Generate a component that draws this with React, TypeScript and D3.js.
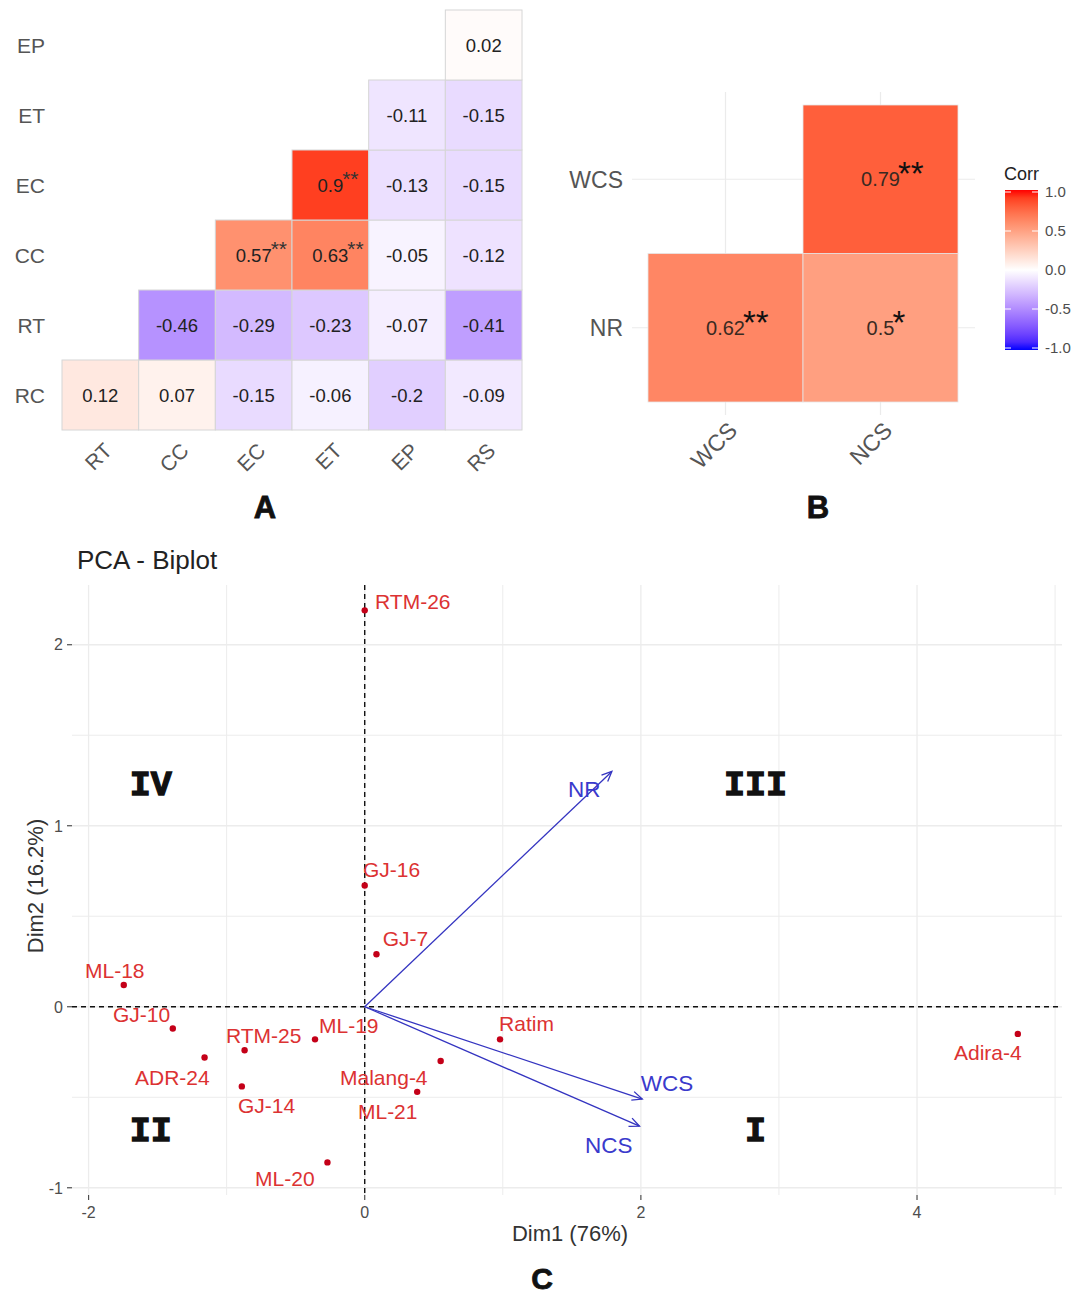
import * as d3 from "d3";
import { useRef, useEffect } from "react";

// ---- panel A: correlation matrix (rows listed bottom to top)
const corrRows = ["RC", "RT", "CC", "EC", "ET", "EP"];
const corrCols = ["RT", "CC", "EC", "ET", "EP", "RS"];
const corrValues: (number | null)[][] = [
  [0.12, 0.07, -0.15, -0.06, -0.2, -0.09],
  [null, -0.46, -0.29, -0.23, -0.07, -0.41],
  [null, null, 0.57, 0.63, -0.05, -0.12],
  [null, null, null, 0.9, -0.13, -0.15],
  [null, null, null, null, -0.11, -0.15],
  [null, null, null, null, null, 0.02],
];
const corrStars: (string | null)[][] = [
  [null, null, null, null, null, null],
  [null, null, null, null, null, null],
  [null, null, "**", "**", null, null],
  [null, null, null, "**", null, null],
  [null, null, null, null, null, null],
  [null, null, null, null, null, null],
];

// ---- panel B
const bRows = ["NR", "WCS"];
const bCols = ["WCS", "NCS"];
const bValues: (number | null)[][] = [
  [0.62, 0.5],
  [null, 0.79],
];
const bStars: (string | null)[][] = [
  ["**", "*"],
  [null, "**"],
];
const legendTicks = [1.0, 0.5, 0.0, -0.5, -1.0];

// ---- panel C: PCA biplot
const genotypes = ["RTM-26", "GJ-16", "GJ-7", "ML-18", "GJ-10", "ADR-24", "RTM-25", "GJ-14", "ML-19", "ML-20", "Ratim", "Malang-4", "ML-21", "Adira-4"];
const dim1 = [0, 0, 0.085, -1.745, -1.39, -1.16, -0.87, -0.89, -0.36, -0.27, 0.98, 0.55, 0.38, 4.73];
const dim2 = [2.19, 0.67, 0.29, 0.12, -0.12, -0.28, -0.24, -0.44, -0.18, -0.86, -0.18, -0.3, -0.47, -0.15];
// label anchor (repelled) in data units
const labelX = [0.075, -0.013, 0.13, -2.026, -1.823, -1.664, -1.005, -0.918, -0.331, -0.794, 0.973, -0.179, -0.049, 4.268];
const labelY = [2.24, 0.756, 0.375, 0.198, -0.04, -0.393, -0.156, -0.543, -0.106, -0.946, -0.09, -0.393, -0.581, -0.255];

const variables = ["NR", "WCS", "NCS"];
const varX = [1.79, 2.01, 1.99];
const varY = [1.3, -0.51, -0.66];
const varLabelX = [1.473, 2.0, 1.595];
const varLabelY = [1.204, -0.42, -0.764];

const quadrants = ["IV", "III", "II", "I"];
const quadX = [-1.55, 2.83, -1.55, 2.83];
const quadY = [1.24, 1.24, -0.67, -0.67];

const xTicks = [-2, 0, 2, 4];
const yTicks = [-1, 0, 1, 2];

const FONT = "'Liberation Sans', Arial, sans-serif";

export default function App() {
  const svgRef = useRef<SVGSVGElement | null>(null);

  useEffect(() => {
    const svg = d3.select(svgRef.current);
    svg.selectAll("*").remove();
    svg.attr("font-family", FONT);

    const color = d3
      .scaleLinear<string>()
      .domain([-1, 0, 1])
      .range(["blue", "white", "red"])
      .interpolate(d3.interpolateLab);

    // ================= A =================
    const ax = d3.scaleBand().domain(corrCols).range([62, 522]);
    const ay = d3.scaleBand().domain(corrRows).range([430, 10]);
    const gA = svg.append("g");

    const cellsA: { r: string; c: string; v: number; s: string | null }[] = [];
    corrRows.forEach((r, i) =>
      corrCols.forEach((c, j) => {
        const v = corrValues[i][j];
        if (v !== null) cellsA.push({ r, c, v, s: corrStars[i][j] });
      })
    );

    gA.selectAll("rect")
      .data(cellsA)
      .join("rect")
      .attr("x", d => ax(d.c)!)
      .attr("y", d => ay(d.r)!)
      .attr("width", ax.bandwidth())
      .attr("height", ay.bandwidth())
      .attr("fill", d => color(d.v))
      .attr("stroke", "#d6d6d6")
      .attr("stroke-width", 1);

    const valA = gA.selectAll("g.val").data(cellsA).join("g").attr("class", "val")
      .attr("transform", d => `translate(${ax(d.c)! + ax.bandwidth() / 2},${ay(d.r)! + ay.bandwidth() / 2})`);
    valA.append("text")
      .attr("class", "num")
      .attr("text-anchor", "middle")
      .attr("dy", "0.36em")
      .attr("font-size", 18.5)
      .attr("fill", "#222")
      .text(d => String(d.v));
    valA.filter(d => !!d.s).each(function () {
      const g = d3.select(this);
      const w = (g.select("text.num").node() as SVGTextElement).getComputedTextLength();
      g.append("text")
        .attr("x", w / 2 - 1)
        .attr("y", 1)
        .attr("font-size", 21)
        .attr("fill", "#333")
        .text((g.datum() as any).s);
    });

    gA.selectAll("text.row")
      .data(corrRows)
      .join("text")
      .attr("class", "row")
      .attr("x", 45)
      .attr("y", d => ay(d)! + ay.bandwidth() / 2)
      .attr("dy", "0.36em")
      .attr("text-anchor", "end")
      .attr("font-size", 21)
      .attr("fill", "#555")
      .text(d => d);

    gA.selectAll("text.col")
      .data(corrCols)
      .join("text")
      .attr("class", "col")
      .attr("text-anchor", "end")
      .attr("font-size", 21)
      .attr("fill", "#555")
      .attr("transform", d => `translate(${ax(d)! + ax.bandwidth() / 2 + 13},${452}) rotate(-45)`)
      .text(d => d);

    svg.append("text").attr("x", 265).attr("y", 518).attr("text-anchor", "middle")
      .attr("font-size", 31).attr("font-weight", 700).attr("fill", "#111")
      .attr("stroke", "#111").attr("stroke-width", 0.8).text("A");

    // ================= B =================
    const bx = d3.scaleBand().domain(bCols).range([648, 958]);
    const by = d3.scaleBand().domain(bRows).range([402, 105]);
    const gB = svg.append("g");

    gB.selectAll("line.gx").data(bCols).join("line").attr("class", "gx")
      .attr("x1", d => bx(d)! + bx.bandwidth() / 2).attr("x2", d => bx(d)! + bx.bandwidth() / 2)
      .attr("y1", 92).attr("y2", 415)
      .attr("stroke", "#ebebeb").attr("stroke-width", 1.2);
    gB.selectAll("line.gy").data(bRows).join("line").attr("class", "gy")
      .attr("y1", d => by(d)! + by.bandwidth() / 2).attr("y2", d => by(d)! + by.bandwidth() / 2)
      .attr("x1", 632).attr("x2", 975)
      .attr("stroke", "#ebebeb").attr("stroke-width", 1.2);

    const cellsB: { r: string; c: string; v: number; s: string | null }[] = [];
    bRows.forEach((r, i) =>
      bCols.forEach((c, j) => {
        const v = bValues[i][j];
        if (v !== null) cellsB.push({ r, c, v, s: bStars[i][j] });
      })
    );

    gB.selectAll("rect")
      .data(cellsB)
      .join("rect")
      .attr("x", d => bx(d.c)!)
      .attr("y", d => by(d.r)!)
      .attr("width", bx.bandwidth())
      .attr("height", by.bandwidth())
      .attr("fill", d => color(d.v))
      .attr("stroke", "#e6e6e6")
      .attr("stroke-width", 0.8);

    const valB = gB.selectAll("g.val").data(cellsB).join("g").attr("class", "val")
      .attr("transform", d => `translate(${bx(d.c)! + bx.bandwidth() / 2},${by(d.r)! + by.bandwidth() / 2})`);
    valB.append("text")
      .attr("class", "num")
      .attr("text-anchor", "middle")
      .attr("dy", "0.36em")
      .attr("font-size", 20)
      .attr("fill", "#3a2a22")
      .text(d => String(d.v));
    valB.each(function () {
      const g = d3.select(this);
      const w = (g.select("text.num").node() as SVGTextElement).getComputedTextLength();
      g.append("text")
        .attr("x", w / 2 - 2)
        .attr("y", 6)
        .attr("font-size", 33)
        .attr("fill", "#111")
        .text((g.datum() as any).s ?? "");
    });

    gB.selectAll("text.row").data(bRows).join("text").attr("class", "row")
      .attr("x", 623)
      .attr("y", d => by(d)! + by.bandwidth() / 2)
      .attr("dy", "0.36em")
      .attr("text-anchor", "end")
      .attr("font-size", 23)
      .attr("fill", "#555")
      .text(d => d);

    gB.selectAll("text.col").data(bCols).join("text").attr("class", "col")
      .attr("text-anchor", "end")
      .attr("font-size", 23)
      .attr("fill", "#555")
      .attr("transform", d => `translate(${bx(d)! + bx.bandwidth() / 2 + 13},${432}) rotate(-45)`)
      .text(d => d);

    svg.append("text").attr("x", 818).attr("y", 518).attr("text-anchor", "middle")
      .attr("font-size", 31).attr("font-weight", 700).attr("fill", "#111")
      .attr("stroke", "#111").attr("stroke-width", 0.8).text("B");

    // legend
    const ly = d3.scaleLinear().domain([1, -1]).range([192, 348]);
    const defs = svg.append("defs");
    const grad = defs.append("linearGradient").attr("id", "corrGrad")
      .attr("x1", 0).attr("x2", 0).attr("y1", 0).attr("y2", 1);
    d3.range(0, 1.0001, 0.05).forEach(t => {
      grad.append("stop").attr("offset", t).attr("stop-color", color(1 - 2 * t));
    });
    svg.append("text").attr("x", 1004).attr("y", 180).attr("font-size", 18).attr("fill", "#222").text("Corr");
    svg.append("rect").attr("x", 1005).attr("y", ly(1) - 2).attr("width", 33).attr("height", ly(-1) - ly(1) + 4)
      .attr("fill", "url(#corrGrad)");
    svg.selectAll("line.lt").data(legendTicks).join("line").attr("class", "lt")
      .attr("x1", 1005).attr("x2", 1011).attr("y1", d => ly(d)).attr("y2", d => ly(d))
      .attr("stroke", "white").attr("stroke-width", 1);
    svg.selectAll("line.lt2").data(legendTicks).join("line").attr("class", "lt2")
      .attr("x1", 1032).attr("x2", 1038).attr("y1", d => ly(d)).attr("y2", d => ly(d))
      .attr("stroke", "white").attr("stroke-width", 1);
    svg.selectAll("text.ll").data(legendTicks).join("text").attr("class", "ll")
      .attr("x", 1045).attr("y", d => ly(d)).attr("dy", "0.36em")
      .attr("font-size", 15).attr("fill", "#4d4d4d")
      .text(d => d.toFixed(1));

    // ================= C =================
    const x = d3.scaleLinear().domain([-2.12, 5.05]).range([72, 1062]);
    const y = d3.scaleLinear().domain([-1.04, 2.33]).range([1195, 585]);
    const gC = svg.append("g");

    svg.append("text").attr("x", 77).attr("y", 569).attr("font-size", 26).attr("fill", "#222").text("PCA - Biplot");

    const xGrid = d3.range(-2, 5.01, 1);
    const yGrid = d3.range(-1, 2.01, 0.5);
    gC.selectAll("line.vg").data(xGrid).join("line").attr("class", "vg")
      .attr("x1", d => x(d)).attr("x2", d => x(d)).attr("y1", 585).attr("y2", 1195)
      .attr("stroke", "#ececec").attr("stroke-width", d => (d % 2 === 0 ? 1.3 : 1));
    gC.selectAll("line.hg").data(yGrid).join("line").attr("class", "hg")
      .attr("y1", d => y(d)).attr("y2", d => y(d)).attr("x1", 72).attr("x2", 1062)
      .attr("stroke", "#ececec").attr("stroke-width", d => (Number.isInteger(d) ? 1.3 : 1));

    // zero lines
    gC.append("line").attr("x1", 72).attr("x2", 1062).attr("y1", y(0)).attr("y2", y(0))
      .attr("stroke", "#111").attr("stroke-width", 1.4).attr("stroke-dasharray", "5,4");
    gC.append("line").attr("x1", x(0)).attr("x2", x(0)).attr("y1", 585).attr("y2", 1195)
      .attr("stroke", "#111").attr("stroke-width", 1.4).attr("stroke-dasharray", "5,4");

    // axes ticks
    gC.selectAll("line.yt").data(yTicks).join("line").attr("class", "yt")
      .attr("x1", 67).attr("x2", 72).attr("y1", d => y(d)).attr("y2", d => y(d))
      .attr("stroke", "#4d4d4d").attr("stroke-width", 1.2);
    gC.selectAll("text.yl").data(yTicks).join("text").attr("class", "yl")
      .attr("x", 63).attr("y", d => y(d)).attr("dy", "0.36em").attr("text-anchor", "end")
      .attr("font-size", 16).attr("fill", "#4d4d4d").text(d => String(d));
    gC.selectAll("line.xt").data(xTicks).join("line").attr("class", "xt")
      .attr("x1", d => x(d)).attr("x2", d => x(d)).attr("y1", 1195).attr("y2", 1200)
      .attr("stroke", "#4d4d4d").attr("stroke-width", 1.2);
    gC.selectAll("text.xl").data(xTicks).join("text").attr("class", "xl")
      .attr("x", d => x(d)).attr("y", 1218).attr("text-anchor", "middle")
      .attr("font-size", 16).attr("fill", "#4d4d4d").text(d => String(d));

    svg.append("text").attr("x", 570).attr("y", 1241).attr("text-anchor", "middle")
      .attr("font-size", 22).attr("fill", "#333").text("Dim1 (76%)");
    svg.append("text").attr("transform", `translate(43,886) rotate(-90)`).attr("text-anchor", "middle")
      .attr("font-size", 22).attr("fill", "#333").text("Dim2 (16.2%)");

    // quadrant labels
    gC.selectAll("text.q").data(quadrants).join("text").attr("class", "q")
      .attr("x", (_, i) => x(quadX[i])).attr("y", (_, i) => y(quadY[i])).attr("dy", "0.36em")
      .attr("text-anchor", "middle")
      .attr("font-family", "'Liberation Mono', 'Courier New', monospace").attr("font-weight", 700)
      .attr("font-size", 35).attr("fill", "#111").attr("stroke", "#111").attr("stroke-width", 1.3)
      .text(d => d);

    // variable arrows
    const arrowCol = "#3434c0";
    variables.forEach((v, i) => {
      const x0 = x(0), y0 = y(0), x1 = x(varX[i]), y1 = y(varY[i]);
      gC.append("line").attr("x1", x0).attr("y1", y0).attr("x2", x1).attr("y2", y1)
        .attr("stroke", arrowCol).attr("stroke-width", 1.3);
      const a = Math.atan2(y1 - y0, x1 - x0);
      const L = 11, s = 0.42;
      const p1 = [x1 - L * Math.cos(a - s), y1 - L * Math.sin(a - s)];
      const p2 = [x1 - L * Math.cos(a + s), y1 - L * Math.sin(a + s)];
      gC.append("path").attr("d", `M${p1[0]},${p1[1]}L${x1},${y1}L${p2[0]},${p2[1]}`)
        .attr("fill", "none").attr("stroke", arrowCol).attr("stroke-width", 1.3);
      gC.append("text").attr("x", x(varLabelX[i])).attr("y", y(varLabelY[i])).attr("dy", "0.36em")
        .attr("font-size", 22.5).attr("fill", "#3a3acc").text(v);
    });

    // individuals
    gC.selectAll("circle.pt").data(genotypes).join("circle").attr("class", "pt")
      .attr("cx", (_, i) => x(dim1[i])).attr("cy", (_, i) => y(dim2[i])).attr("r", 3.2)
      .attr("fill", "#c40018");
    gC.selectAll("text.lab").data(genotypes).join("text").attr("class", "lab")
      .attr("x", (_, i) => x(labelX[i])).attr("y", (_, i) => y(labelY[i])).attr("dy", "0.36em")
      .attr("font-size", 21).attr("fill", "#dc3232").text(d => d);

    svg.append("text").attr("x", 542).attr("y", 1289).attr("text-anchor", "middle")
      .attr("font-size", 30).attr("font-weight", 700).attr("fill", "#111")
      .attr("stroke", "#111").attr("stroke-width", 0.8).text("C");
  }, []);

  return (
    <div style={{ position: "absolute", left: 0, top: 0 }}>
      <svg ref={svgRef} width={1080} height={1298} style={{ display: "block", background: "white" }} />
    </div>
  );
}
